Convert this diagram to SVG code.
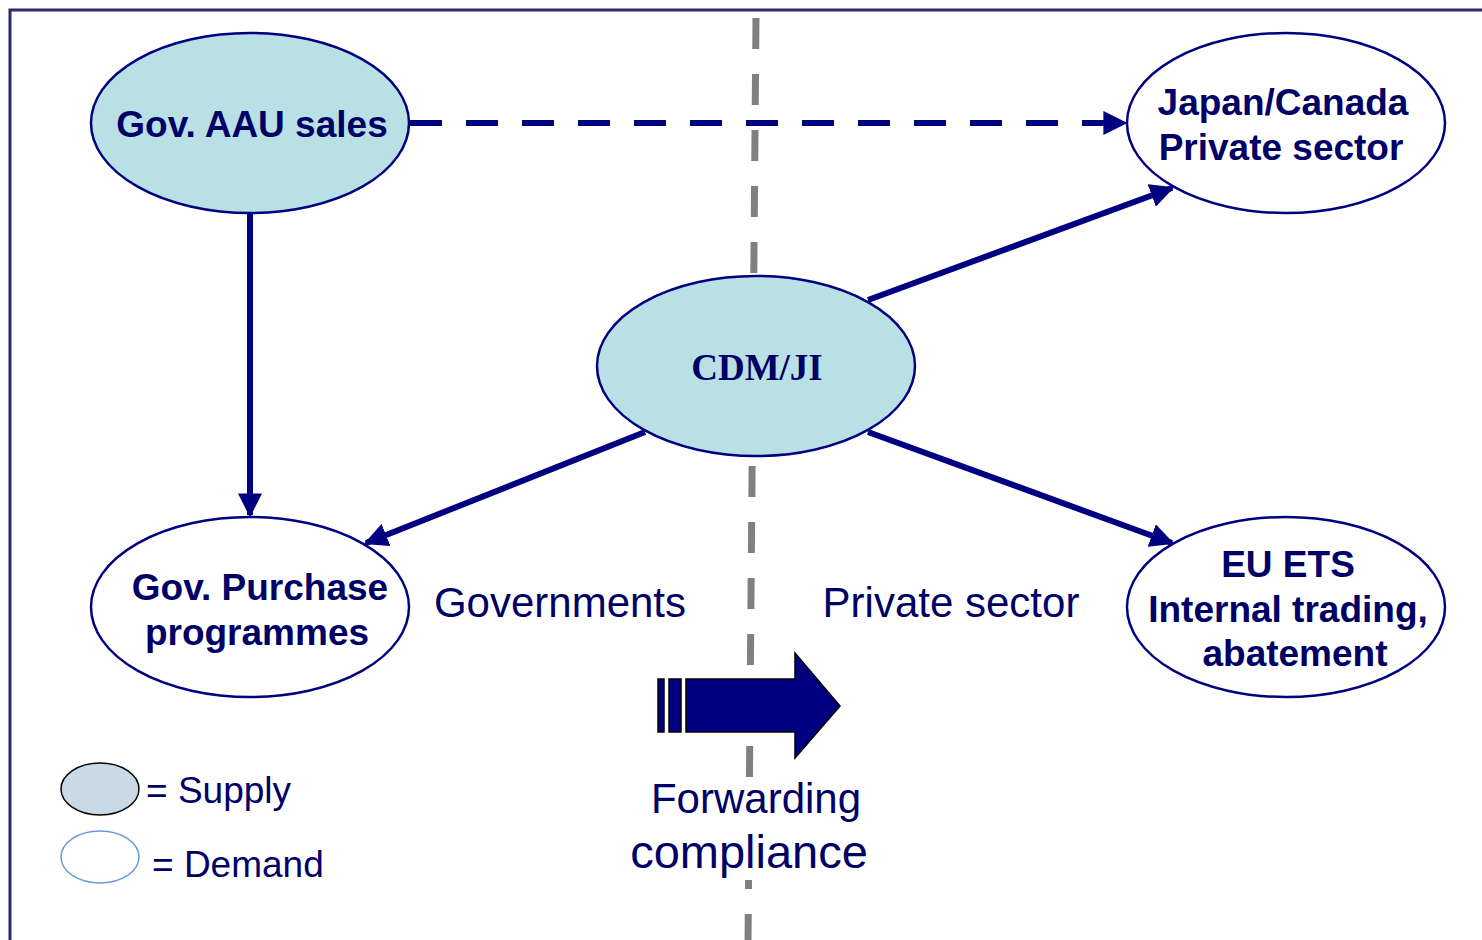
<svg xmlns="http://www.w3.org/2000/svg" width="1482" height="940" viewBox="0 0 1482 940">
  <style>
    .node { stroke: #000080; stroke-width: 2.5; }
    .supply { fill: #b9e0e4; }
    .demand { fill: #ffffff; }
    .lbl { font-family: "Liberation Sans", Arial, sans-serif; font-weight: bold; font-size: 37px; fill: #000066; text-anchor: middle; }
    .plain { font-family: "Liberation Sans", Arial, sans-serif; fill: #000066; }
    .conn { stroke: #000080; stroke-width: 6; fill: none; }
  </style>
  <defs>
    <marker id="head" viewBox="0 0 10 10" refX="9" refY="5" markerWidth="4" markerHeight="4" orient="auto" markerUnits="strokeWidth">
      <path d="M0,0 L10,5 L0,10 z" fill="#000080"/>
    </marker>
  </defs>

  <rect x="0" y="0" width="1482" height="940" fill="#ffffff"/>
  <!-- frame -->
  <path d="M10,945 L10,10 L1490,10" fill="none" stroke="#2a2a6e" stroke-width="3"/>

  <!-- divider between governments and private sector -->
  <line x1="756" y1="18" x2="748" y2="945" stroke="#808080" stroke-width="7" stroke-dasharray="31,25"/>

  <g id="connectors">
    <line class="conn" x1="410" y1="123" x2="1125" y2="123" stroke-width="7" stroke-dasharray="32,24" marker-end="url(#head)"/>
    <line class="conn" x1="250" y1="213" x2="250" y2="515" marker-end="url(#head)"/>
    <line class="conn" x1="868" y1="300" x2="1172" y2="188" marker-end="url(#head)"/>
    <line class="conn" x1="645" y1="432" x2="366" y2="543" marker-end="url(#head)"/>
    <line class="conn" x1="868" y1="432" x2="1172" y2="543" marker-end="url(#head)"/>
  </g>

  <g id="gov-aau-sales">
    <ellipse class="node supply" cx="250" cy="123" rx="159" ry="90"/>
    <text class="lbl" x="252" y="137">Gov. AAU sales</text>
  </g>

  <g id="japan-canada">
    <ellipse class="node demand" cx="1286" cy="123" rx="159" ry="90"/>
    <text class="lbl" x="1283" y="115">Japan/Canada</text>
    <text class="lbl" x="1281" y="160">Private sector</text>
  </g>

  <g id="cdm-ji">
    <ellipse class="node supply" cx="756" cy="366" rx="159" ry="90"/>
    <text x="757" y="380" font-family="'Liberation Serif', 'Times New Roman', serif" font-weight="bold" font-size="37" fill="#000066" text-anchor="middle">CDM/JI</text>
  </g>

  <g id="gov-purchase">
    <ellipse class="node demand" cx="250" cy="607" rx="159" ry="90"/>
    <text class="lbl" x="260" y="600">Gov. Purchase</text>
    <text class="lbl" x="257" y="645">programmes</text>
  </g>

  <g id="eu-ets">
    <ellipse class="node demand" cx="1286" cy="607" rx="159" ry="90"/>
    <text class="lbl" x="1288" y="577">EU ETS</text>
    <text class="lbl" x="1288" y="622">Internal trading,</text>
    <text class="lbl" x="1295" y="666">abatement</text>
  </g>

  <text class="plain" x="560" y="617" font-size="42" text-anchor="middle">Governments</text>
  <text class="plain" x="951" y="617" font-size="42" text-anchor="middle">Private sector</text>

  <!-- forwarding arrow -->
  <g id="forwarding-arrow" fill="#000080" stroke="#000000" stroke-width="1.5">
    <rect x="658" y="679" width="6" height="53"/>
    <rect x="669" y="679" width="12" height="53"/>
    <path d="M686,679 L795,679 L795,653 L840,706 L795,758 L795,732 L686,732 z"/>
  </g>
  <g id="forwarding-label">
    <rect x="626" y="778" width="248" height="102" fill="#ffffff"/>
    <text class="plain" x="756" y="813" font-size="42" text-anchor="middle">Forwarding</text>
    <text class="plain" x="749" y="868" font-size="47" text-anchor="middle">compliance</text>
  </g>

  <!-- legend -->
  <g id="legend">
    <ellipse cx="100" cy="789" rx="39" ry="26" fill="#c9d9e6" stroke="#000000" stroke-width="1.5"/>
    <text class="plain" x="146" y="803" font-size="37">= Supply</text>
    <ellipse cx="100" cy="857" rx="39" ry="26" fill="#ffffff" stroke="#6a9ad8" stroke-width="1.5"/>
    <text class="plain" x="152" y="877" font-size="37">= Demand</text>
  </g>
</svg>
